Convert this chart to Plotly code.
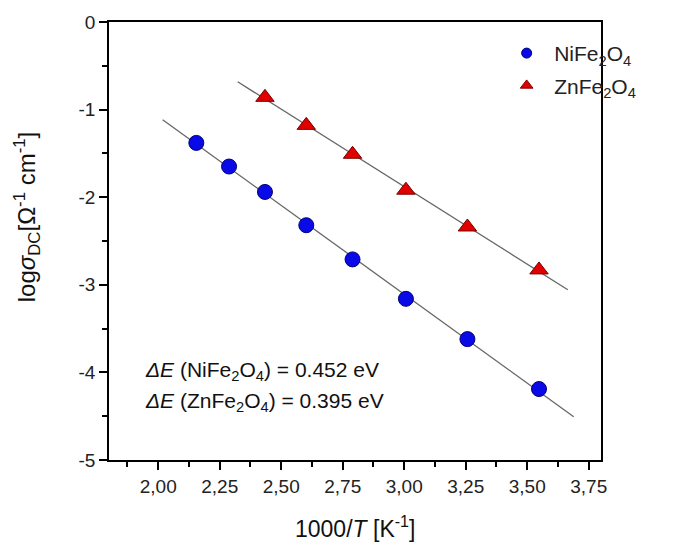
import numpy as np
import plotly.graph_objects as go

# ---- data ----
ni_x = [2.155, 2.288, 2.434, 2.602, 2.790, 3.007, 3.257, 3.548]
ni_y = [-1.38, -1.65, -1.94, -2.32, -2.71, -3.16, -3.62, -4.19]
zn_x = [2.434, 2.602, 2.790, 3.007, 3.257, 3.548]
zn_y = [-0.86, -1.18, -1.51, -1.92, -2.34, -2.83]
ni_fit_range = [2.018, 3.689]
zn_fit_range = [2.323, 3.665]
y_tickvals = [0, -1, -2, -3, -4, -5]
y_ticktext = ["0", "-1", "-2", "-3", "-4", "-5"]
x_tickvals = [2.00, 2.25, 2.50, 2.75, 3.00, 3.25, 3.50, 3.75]
x_ticktext = ["2,00", "2,25", "2,50", "2,75", "3,00", "3,25", "3,50", "3,75"]
ni_name = "NiFe<sub>2</sub>O<sub>4</sub>"
zn_name = "ZnFe<sub>2</sub>O<sub>4</sub>"
ann_lines = ["<i>ΔE</i> (NiFe<sub>2</sub>O<sub>4</sub>) = 0.452 eV",
             "<i>ΔE</i> (ZnFe<sub>2</sub>O<sub>4</sub>) = 0.395 eV"]
x_title = "1000/<i>T</i> [K<sup>-1</sup>]"
y_title = "log<i>σ</i><sub>DC</sub>[Ω<sup>-1</sup> cm<sup>-1</sup>]"

FONT = "Liberation Sans, Arial, sans-serif"

def fit_line(xs, ys, rng):
    p = np.polyfit(xs, ys, 1)
    xx = np.array(rng)
    return xx, np.polyval(p, xx)

fig = go.Figure()

for xs, ys, rng in [(ni_x, ni_y, ni_fit_range), (zn_x, zn_y, zn_fit_range)]:
    fx, fy = fit_line(xs, ys, rng)
    fig.add_trace(go.Scatter(x=fx, y=fy, mode="lines",
                             line=dict(color="#666666", width=1.3),
                             showlegend=False, hoverinfo="skip"))

fig.add_trace(go.Scatter(x=ni_x, y=ni_y, mode="markers", showlegend=False,
                         marker=dict(symbol="circle", size=15, color="#0a0ae6",
                                     line=dict(color="#00007a", width=1))))
fig.add_trace(go.Scatter(x=zn_x, y=zn_y, mode="markers", showlegend=False,
                         marker=dict(symbol="triangle-up", size=16, color="#e00000",
                                     line=dict(color="#7a0000", width=1))))

# legend entries (smaller symbols)
fig.add_trace(go.Scatter(x=[None], y=[None], mode="markers", name=ni_name,
                         legendgroup="a",
                         marker=dict(symbol="circle", size=10, color="#0a0ae6",
                                     line=dict(color="#00007a", width=1))))
fig.add_trace(go.Scatter(x=[None], y=[None], mode="markers", name=zn_name,
                         legendgroup="b",
                         marker=dict(symbol="triangle-up", size=11, color="#e00000",
                                     line=dict(color="#7a0000", width=1))))

for i, txt in enumerate(ann_lines):
    fig.add_annotation(x=1.94, y=-3.98 - 0.36 * i, xref="x", yref="y", text=txt,
                       showarrow=False, xanchor="left", yanchor="middle",
                       font=dict(family=FONT, size=21, color="#111111"))

# axis titles as annotations for exact placement
fig.add_annotation(x=0.5, y=-0.152, xref="paper", yref="paper", text=x_title,
                   showarrow=False, xanchor="center", yanchor="middle",
                   font=dict(family=FONT, size=23, color="#111111"))
fig.add_annotation(x=-0.165, y=0.556, xref="paper", yref="paper", text=y_title,
                   showarrow=False, xanchor="center", yanchor="middle", textangle=-90,
                   font=dict(family=FONT, size=24, color="#111111"))

axis_common = dict(showline=True, linecolor="black", linewidth=1.5, mirror=True,
                   ticks="outside", ticklen=8, tickwidth=1.5, tickcolor="black",
                   showgrid=False, zeroline=False,
                   tickfont=dict(family=FONT, size=19, color="#222222"))

fig.update_xaxes(range=[1.8, 3.8], tickvals=x_tickvals, ticktext=x_ticktext,
                 minor=dict(ticks="outside", ticklen=5, tickwidth=1.5, tickcolor="black",
                            dtick=0.125, tick0=1.875),
                 **axis_common)
fig.update_yaxes(range=[-5, 0], tickvals=y_tickvals, ticktext=y_ticktext,
                 minor=dict(ticks="outside", ticklen=5, tickwidth=1.5, tickcolor="black",
                            dtick=0.5, tick0=0),
                 **axis_common)

fig.update_layout(
    width=685, height=546,
    margin=dict(l=109, r=84, t=15, b=86),
    paper_bgcolor="white", plot_bgcolor="white",
    legend=dict(x=0.793, y=0.975, xanchor="left", yanchor="top",
                bgcolor="rgba(0,0,0,0)", tracegroupgap=2, itemwidth=45,
                font=dict(family=FONT, size=21, color="#222222")),
)

fig.write_html("out.html")
